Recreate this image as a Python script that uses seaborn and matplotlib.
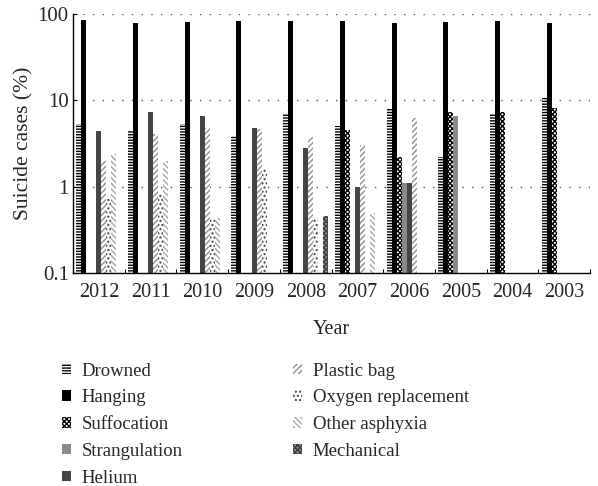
import matplotlib
matplotlib.use("Agg")
import matplotlib.pyplot as plt
from matplotlib.patches import Patch
from matplotlib.ticker import FixedLocator, FixedFormatter, NullLocator
import seaborn as sns
import pandas as pd
import numpy as np

years = ["2012", "2011", "2010", "2009", "2008", "2007", "2006", "2005", "2004", "2003"]
methods = ["Drowned", "Hanging", "Suffocation", "Strangulation", "Helium",
           "Plastic bag", "Oxygen replacement", "Other asphyxia", "Mechanical"]

drowned       = [5.4, 4.6, 5.3, 3.9, 7.0, 5.1, 8.1, 2.2, 6.9, 10.7]
hanging       = [86, 79, 81, 83, 84, 84, 79, 81, 84, 79]
suffocation   = [None, None, None, None, None, 4.6, 2.2, 7.35, 7.35, 8.2]
strangulation = [None, None, None, None, None, None, 1.12, 6.6, None, None]
helium        = [4.4, 7.35, 6.6, 4.8, 2.8, 1.0, 1.12, None, None, None]
plastic_bag   = [2.0, 4.1, 4.8, 4.7, 3.8, 3.05, 6.2, None, None, None]
oxygen        = [0.75, 0.82, 0.42, 1.67, 0.42, None, None, None, None, None]
other_asph    = [2.4, 2.0, 0.44, None, None, 0.5, None, None, None, None]
mechanical    = [None, None, None, None, 0.46, None, None, None, None, None]

series = [drowned, hanging, suffocation, strangulation, helium,
          plastic_bag, oxygen, other_asph, mechanical]

rows = []
for m, vals in zip(methods, series):
    for y, v in zip(years, vals):
        if v is not None:
            rows.append({"Year": y, "Method": m, "Value": v})
df = pd.DataFrame(rows)

# styles: (facecolor, hatch, hatchcolor)
styles = {
    "Drowned":            ("white",   "------", "black"),
    "Hanging":            ("black",   None,     "black"),
    "Suffocation":        ("white",   "xxxxxxx", "black"),
    "Strangulation":      ("#8a8a8a", None,     "#8a8a8a"),
    "Helium":             ("#454545", None,     "#454545"),
    "Plastic bag":        ("white",   "//////", "#8f8f8f"),
    "Oxygen replacement": ("white",   "....",   "#444444"),
    "Other asphyxia":     ("white",   "\\\\\\\\\\\\", "#a5a5a5"),
    "Mechanical":         ("#9a9a9a", "xxxxxxx", "#3a3a3a"),
}

sns.set_theme(style="white")
plt.rcParams['font.family'] = ['Liberation Serif', 'DejaVu Serif']
plt.rcParams['hatch.linewidth'] = 1.0

fig = plt.figure(figsize=(5.98, 4.86), dpi=100)
ax = fig.add_axes([0.122, 0.438, 0.865, 0.533])
ax.set_yscale("log")

palette = {m: styles[m][0] for m in methods}
sns.barplot(data=df, x="Year", y="Value", hue="Method", order=years,
            hue_order=methods, palette=palette, width=0.87, gap=0,
            saturation=1, linewidth=0, ax=ax, legend=False)

for m, cont in zip(methods, ax.containers):
    fc, hatch, hc = styles[m]
    for p in cont.patches:
        p.set_facecolor(fc)
        p.set_edgecolor(hc)
        p.set_linewidth(0)
        if hatch:
            p.set_hatch(hatch)

ax.set_ylim(0.1, 100)
ax.set_xlim(-0.5, len(years) - 0.5)
ax.yaxis.set_major_locator(FixedLocator([0.1, 1, 10, 100]))
ax.yaxis.set_major_formatter(FixedFormatter(["0.1", "1", "10", "100"]))
ax.yaxis.set_minor_locator(NullLocator())
ax.set_xticks(np.arange(len(years)))
ax.set_xticklabels(years)
ax.set_xticks(np.arange(len(years) + 1) - 0.5, minor=True)
ax.tick_params(axis="x", which="major", length=0, labelsize=14.5, pad=7)
ax.tick_params(axis="x", which="minor", direction="in", length=3, width=0.8, color="black", bottom=True)
ax.tick_params(axis="y", which="major", direction="in", length=3, width=0.8, color="black",
               labelsize=15, left=True, pad=3)

for v in [1, 10, 100]:
    ax.axhline(v, color="#555555", linestyle=(0, (1, 6)), linewidth=1.0, zorder=0)

for s in ["top", "right"]:
    ax.spines[s].set_visible(False)
for s in ["left", "bottom"]:
    ax.spines[s].set_color("black")
    ax.spines[s].set_linewidth(1.0)

ax.set_xlabel("Year", fontsize=14.5, labelpad=13)
ax.set_ylabel("Suicide cases (%)", fontsize=15.5, labelpad=3)

handles = []
for m in methods:
    fc, hatch, hc = styles[m]
    handles.append(Patch(facecolor=fc, edgecolor=hc, hatch=hatch, linewidth=0, label=m))
fig.legend(handles=handles, loc="upper left", bbox_to_anchor=(0.103, 0.254), ncol=2,
           frameon=False, fontsize=13.5, handlelength=0.5, handleheight=0.5,
           handletextpad=0.55, columnspacing=5.9, labelspacing=0.52, borderaxespad=0,
           borderpad=0)

fig.savefig("out.png", dpi=100)
